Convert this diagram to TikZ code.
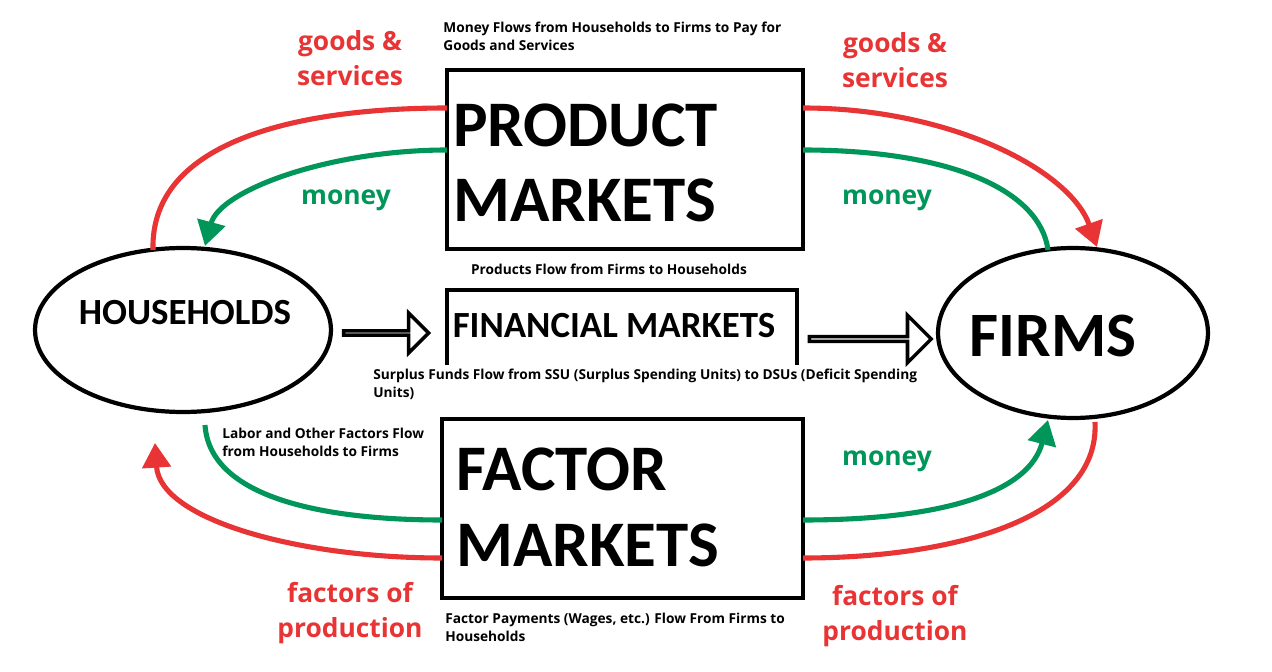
\documentclass[tikz,border=0pt]{standalone}
\usepackage{fontspec}
\setmainfont{Open Sans}
\newfontfamily\titlef{Carlito}
\usetikzlibrary{arrows.meta,shapes.arrows,shapes.geometric}
\definecolor{rd}{RGB}{232,52,52}
\definecolor{gn}{RGB}{0,150,90}
\begin{document}
\begin{tikzpicture}[x=0.02cm,y=-0.02cm,
  flow/.style={line width=2.9pt,-{Triangle[length=14pt,width=16pt]}},
  plain/.style={line width=2.9pt},
  box/.style={line width=2.4pt},
  redlab/.style={text=rd,font=\fontsize{15}{19.5}\selectfont\bfseries,align=center},
  grnlab/.style={text=gn,font=\fontsize{15}{17}\selectfont\bfseries},
  small/.style={font=\fontsize{7.8}{10.2}\selectfont\bfseries,align=left,anchor=north west,inner sep=0},
  big/.style={font=\titlef\fontsize{37}{37}\selectfont\bfseries,anchor=base west,inner sep=0},
  blk/.style={single arrow,draw,line width=2pt,fill=white,single arrow head extend=0.3cm,inner sep=0,minimum width=0.95cm,minimum height=#1}]
\useasboundingbox (0,0) rectangle (1272,672);
\fill[white] (0,0) rectangle (1272,672);
% boxes
\draw[box] (447,70) rectangle (803,249);
\draw[box] (442,419) rectangle (803,598);
\draw[box] (447,365) -- (447,290) -- (797,290) -- (797,365);
\node (hh) [draw,line width=2.4pt,shape=ellipse,minimum width=5.92cm,minimum height=3.28cm] at (183,330) {};
\node (fm) [draw,line width=2.4pt,shape=ellipse,minimum width=5.4cm,minimum height=3.4cm] at (1073,333) {};
% coordinates
\coordinate (p1) at (447,108); \coordinate (p2) at (447,150);
\coordinate (p3) at (803,108); \coordinate (p4) at (803,150);
\coordinate (f1) at (442,520); \coordinate (f2) at (442,558);
\coordinate (f3) at (803,520); \coordinate (f4) at (803,558);
\coordinate (h1) at (153,250); \coordinate (h2) at (205,246);
\coordinate (h3) at (205,425); \coordinate (h4) at (155,443);
\coordinate (r1) at (1097,247); \coordinate (r2) at (1048,250);
\coordinate (r3) at (1048,420); \coordinate (r4) at (1095,422);
% flows
\draw[plain,rd] (h1) .. controls (150,140) and (300,108) .. (p1);
\draw[flow,gn] (p2) .. controls (330,150) and (220,190) .. (h2);
\draw[flow,rd] (p3) .. controls (950,108) and (1070,170) .. (r1);
\draw[plain,gn] (p4) .. controls (950,150) and (1040,190) .. (r2);
\draw[plain,gn] (h3) .. controls (210,500) and (330,520) .. (f1);
\draw[flow,rd] (f2) .. controls (300,558) and (160,520) .. (h4);
\draw[flow,gn] (f3) .. controls (950,520) and (1030,490) .. (r3);
\draw[plain,rd] (r4) .. controls (1100,520) and (950,558) .. (f4);
% block arrows
\node[blk=1.7cm,minimum width=0.8cm] (ba1) at (385,333) {};
\node[blk=2.44cm] (ba2) at (869,339) {};
% titles
\node[big] at (453,147) {PRODUCT};
\node[big] at (453,222) {MARKETS};
\node[big] at (456,490) {FACTOR};
\node[big] at (456,566) {MARKETS};
\node[font=\titlef\fontsize{21}{21}\selectfont\bfseries] at (614,326) {FINANCIAL MARKETS};
\node[font=\titlef\fontsize{21}{21}\selectfont\bfseries] at (185,313) {HOUSEHOLDS};
\node[font=\titlef\fontsize{36}{36}\selectfont\bfseries] at (1053,336) {FIRMS};
% colored labels
\node[redlab] at (350,58) {goods \&\\services};
\node[redlab] at (895,60) {goods \&\\services};
\node[redlab] at (350,613) {factors of\\production};
\node[redlab] at (895,616) {factors of\\production};
\node[grnlab] at (346,200) {money};
\node[grnlab] at (887,200) {money};
\node[grnlab] at (887,461) {money};
% small labels
\node[small] at (443,22) {Money Flows from Households to Firms to Pay for\\Goods and Services};
\node[small,anchor=center] at (609,269) {Products Flow from Firms to Households};
\node[small] at (373,369) {Surplus Funds Flow from SSU (Surplus Spending Units) to DSUs (Deficit Spending\\Units)};
\node[small] at (222,428) {Labor and Other Factors Flow\\from Households to Firms};
\node[small] at (445,613) {Factor Payments (Wages, etc.) Flow From Firms to\\Households};
\end{tikzpicture}
\end{document}
